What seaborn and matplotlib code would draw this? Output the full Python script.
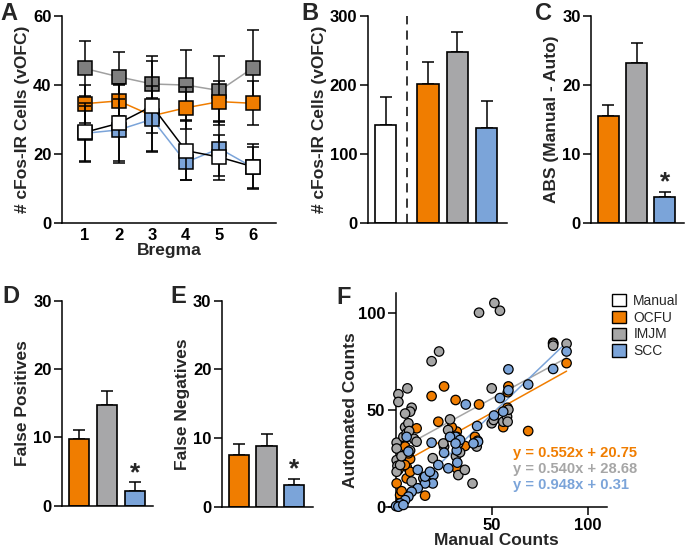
import numpy as np
import pandas as pd
import matplotlib
matplotlib.use("Agg")
import matplotlib.pyplot as plt
from matplotlib.patches import Patch
import seaborn as sns

# ---------------- data ----------------
groups = ["Manual", "OCFU", "IMJM", "SCC"]
colors = {"Manual": "#ffffff", "OCFU": "#f07d00", "IMJM": "#a7a7a9", "SCC": "#7ba4d9"}

# Panel A
bregma = [1, 2, 3, 4, 5, 6]
a_manual = [26.2, 28.8, 33.8, 20.9, 19.0, 16.2]
a_manual_sem = [8.5, 11.5, 13.0, 8.5, 6.5, 6.5]
a_ocfu = [34.5, 35.3, 31.0, 33.3, 35.1, 34.6]
a_ocfu_sem = [5.5, 4.5, 5.0, 6.0, 6.0, 6.4]
a_imjm = [44.7, 42.3, 40.2, 39.9, 38.3, 44.9]
a_imjm_sem = [8.0, 7.2, 8.1, 10.1, 10.0, 10.9]
a_scc = [25.9, 26.9, 30.0, 17.5, 21.5, 16.0]
a_scc_sem = [8.0, 9.0, 9.5, 5.0, 8.0, 6.0]

# Panel B
b_vals = [142, 201, 247, 137]
b_err = [40, 32, 29, 39]

# Panels C, D, E (OCFU, IMJM, SCC)
cde_groups = ["OCFU", "IMJM", "SCC"]
c_vals = [15.4, 23.2, 3.7]
c_err = [1.7, 2.8, 0.8]
d_vals = [9.8, 14.7, 2.2]
d_err = [1.3, 2.1, 1.2]
e_vals = [7.5, 8.8, 3.2]
e_err = [1.6, 1.8, 0.9]

# Panel F scatter
imjm_x = [1.4, 1.4, 6.1, 8.3, 7.5, 18.7, 22.6, 43.4, 51.4, 54.3, 50, 82, 89, 82, 0.5, 4.9, 4, 6.6,
          9.5, 7.5, 0.5, 0.9, 0.5, 2.3, 8.3, 14.4, 19.3, 25.2, 28.3, 27.3, 31.4, 32.6, 36, 40, 42.2,
          42.7, 50, 51, 56, 58, 58.3, 58.7, 31.8, 32.6, 33.5, 24.8, 5.7, 4.9, 10.9, 0.5, 3.0, 7.0]
imjm_y = [58, 54, 61, 51, 49, 75, 80, 100, 105, 101, 61, 84, 84, 83, 33, 41, 36, 43,
          35, 29, 24, 21, 18, 21.5, 13, 14.6, 25, 31, 45, 39.5, 26, 16.3, 19, 12, 31,
          34, 43, 44.7, 43.8, 46.4, 43.8, 50, 36, 32.6, 28, 32.6, 37.8, 48, 33.5, 30, 26, 39]
ocfu_x = [18.7, 25.2, 31.2, 43.4, 58.7, 58.4, 58.2, 56, 69, 89, 22.2, 10.9, 5.7, 4.9, 5.7, 0.5,
          2.3, 15.3, 7.5, 5.7, 36.1, 41.3, 31.8, 31.8, 7.5, 2.3, 29.2, 1.4, 3.1, 6.6, 4.8, 82]
ocfu_y = [57, 62, 55, 52.7, 62, 59, 51, 41, 39, 74, 43.8, 40.4, 36, 31, 20.6, 12,
          6, 5.7, 24.6, 14.6, 31.3, 36, 38.7, 19.8, 18, 1.7, 41, 19, 8, 27.5, 21.5, 84.5]
scc_x = [36.5, 58.7, 69, 82, 89, 58.7, 54.3, 56, 51.2, 42.4, 42.9, 40.5, 31.2, 33.5, 31.8, 32.1,
         27.4, 25.2, 22.2, 18.7, 19.6, 19.3, 15.3, 11.5, 11.5, 8.3, 6.6, 4.9, 2.3, 0.2, 1.4, 4,
         6.6, 5.7, 28.3, 31.2, 15.3, 17.8]
scc_y = [52.7, 70.8, 63, 71, 80, 60, 56, 49, 47, 41.6, 33.5, 32.6, 36, 34.4, 29, 22.7,
         19.8, 27.8, 21.5, 33, 16.3, 12, 12, 9.5, 19, 7.7, 5.2, 3.4, 1.7, 0.3, 0, 0.9,
         28.4, 36, 36, 32.6, 15.5, 18]
fit_slope = {"OCFU": 0.552, "IMJM": 0.540, "SCC": 0.948}
fit_icpt = {"OCFU": 20.75, "IMJM": 28.68, "SCC": 0.31}

# ---------------- style ----------------
sns.set_style("ticks")
plt.rcParams["font.family"] = ["Liberation Sans", "DejaVu Sans"]
plt.rcParams.update({
    "font.weight": "bold", "axes.labelweight": "bold", "font.size": 12,
    "axes.linewidth": 1.1, "xtick.major.width": 1.1, "ytick.major.width": 1.1,
    "xtick.major.size": 5.5, "ytick.major.size": 5.5,
    "xtick.labelsize": 12, "ytick.labelsize": 12, "axes.labelsize": 12.5,
    "xtick.color": "black", "ytick.color": "black", "axes.edgecolor": "black",
    "xtick.major.pad": 2.5, "ytick.major.pad": 2,
})

W, H = 685, 560
fig = plt.figure(figsize=(W / 100, H / 100), dpi=100)


def axes_px(left, top, right, bottom):
    return fig.add_axes([left / W, 1 - bottom / H, (right - left) / W, (bottom - top) / H])


def clean(ax):
    sns.despine(ax=ax)
    for s in ["left", "bottom"]:
        ax.spines[s].set_linewidth(1.1)


# ---------------- Panel A ----------------
axA = axes_px(62, 15.7, 276, 222.7)
seriesA = [
    ("IMJM", a_imjm, a_imjm_sem, "#a0a0a0", "#7f7f7f"),
    ("OCFU", a_ocfu, a_ocfu_sem, "#f07d00", "#f07d00"),
    ("SCC", a_scc, a_scc_sem, "#7ba4d9", "#7ba4d9"),
    ("Manual", a_manual, a_manual_sem, "black", "white"),
]
z = 2
for name, vals, sem, lc, fc in seriesA:
    axA.errorbar(bregma, vals, yerr=sem, fmt="none", ecolor="black", elinewidth=1.1,
                 capsize=4, capthick=1.1, zorder=z)
    sns.lineplot(x=bregma, y=vals, color=lc, lw=1.1, marker="s", markersize=9.5,
                 markerfacecolor=fc, markeredgecolor="black", markeredgewidth=1.1,
                 ax=axA, zorder=z + 1)
    z += 2
axA.set_xlim(0.32, 6.68)
axA.set_ylim(0, 60)
axA.set_yticks([0, 20, 40, 60])
axA.set_xticks(bregma)
axA.tick_params(axis="x", length=0, pad=4)
axA.set_xlabel("Bregma", labelpad=0)
axA.set_ylabel("# cFos-IR Cells (vOFC)", labelpad=2)
clean(axA)


# ---------------- bar helper ----------------
def bar_panel(ax, names, vals, errs, pos, ylim, yticks, xlim, ylabel, star=False):
    df = pd.DataFrame({"pos": pos, "val": vals, "grp": names})
    sns.barplot(data=df, x="pos", y="val", hue="grp", palette=colors, native_scale=True,
                dodge=False, legend=False, edgecolor="black", linewidth=1.2, width=0.72,
                saturation=1, errorbar=None, ax=ax, zorder=2)
    ax.errorbar(pos, vals, yerr=[np.zeros(len(vals)), errs], fmt="none", ecolor="black",
                elinewidth=1.1, capsize=4.2, capthick=1.1, zorder=1)
    ax.set_xlim(*xlim)
    ax.set_ylim(*ylim)
    ax.set_yticks(yticks)
    ax.set_xticks([])
    ax.set_xlabel("")
    ax.set_ylabel(ylabel, labelpad=2)
    if star:
        ax.annotate("*", xy=(pos[-1], vals[-1] + errs[-1]), xytext=(0, -2),
                    textcoords="offset points", ha="center", va="bottom",
                    fontsize=19, fontweight="bold")
    clean(ax)


# ---------------- Panel B ----------------
axB = axes_px(367.7, 15.7, 506.7, 222.7)
bar_panel(axB, groups, b_vals, b_err, [-0.45, 1, 2, 3], (0, 300), [0, 100, 200, 300],
          (-1.06, 3.69), "# cFos-IR Cells (vOFC)")
axB.axvline(0.27, color="black", lw=1.1, ls=(0, (6, 4)), zorder=0)

# ---------------- Panel C ----------------
axC = axes_px(591, 15.7, 684, 222.7)
bar_panel(axC, cde_groups, c_vals, c_err, [0, 1, 2], (0, 30), [0, 10, 20, 30],
          (-0.62, 2.69), "ABS (Manual - Auto)", star=True)

# ---------------- Panel D ----------------
axD = axes_px(62, 300.7, 153.3, 505.7)
bar_panel(axD, cde_groups, d_vals, d_err, [0, 1, 2], (0, 30), [0, 10, 20, 30],
          (-0.61, 2.67), "False Positives", star=True)

# ---------------- Panel E ----------------
axE = axes_px(221.7, 300.7, 313, 506.7)
bar_panel(axE, cde_groups, e_vals, e_err, [0, 1, 2], (0, 30), [0, 10, 20, 30],
          (-0.61, 2.67), "False Negatives", star=True)

# ---------------- Panel F ----------------
axF = axes_px(386.1, 293.3, 606.9, 506.7)
dfF = pd.concat([
    pd.DataFrame({"manual": ocfu_x, "auto": ocfu_y, "grp": "OCFU"}),
    pd.DataFrame({"manual": imjm_x, "auto": imjm_y, "grp": "IMJM"}),
    pd.DataFrame({"manual": scc_x, "auto": scc_y, "grp": "SCC"}),
], ignore_index=True)
scatter_pal = {"OCFU": "#f07d00", "IMJM": "#a6a6a6", "SCC": "#7ba4d9"}
for g in ["IMJM", "OCFU", "SCC"]:
    sub = dfF[dfF.grp == g]
    xs = np.array([sub.manual.min(), sub.manual.max()])
    sns.lineplot(x=xs, y=fit_slope[g] * xs + fit_icpt[g], color=scatter_pal[g], lw=1.1,
                 ax=axF, zorder=1)
sns.scatterplot(data=dfF, x="manual", y="auto", hue="grp", palette=scatter_pal, s=46,
                edgecolor="black", linewidth=0.9, legend=False, ax=axF, zorder=3,
                clip_on=False)
axF.set_xlim(-5, 110)
axF.set_ylim(0, 110)
axF.spines["left"].set_position(("data", 0))
axF.set_xticks([50, 100])
axF.set_yticks([0, 50, 100])
axF.set_xlabel("Manual Counts", labelpad=0)
axF.set_ylabel("Automated Counts")
axF.yaxis.set_label_coords((358 - 386.1) / 220.8, (506.7 - 410) / 213.4)
clean(axF)
eq_y = [27.8, 19.4, 11.0]
for g, yy in zip(["OCFU", "IMJM", "SCC"], eq_y):
    axF.text(61, yy, f"y = {fit_slope[g]:.3f}x + {fit_icpt[g]:.2f}", color=scatter_pal[g],
             fontsize=10.6, fontweight="bold", va="center", ha="left")

handles = [Patch(facecolor=colors[g] if g != "IMJM" else "#a6a6a6", edgecolor="black",
                 linewidth=1.0, label=g) for g in groups]
fig.legend(handles=handles, loc="upper left", bbox_to_anchor=(612 / W, 1 - 294 / H),
           frameon=False, handlelength=1.0, handleheight=1.0, handletextpad=0.55,
           labelspacing=0.2, borderpad=0, borderaxespad=0,
           prop={"weight": "normal", "size": 9.9})

# ---------------- panel letters ----------------
for lab, x, y in [("A", 0, 2), ("B", 301, 2), ("C", 535, 2),
                  ("D", 2, 285), ("E", 170, 285), ("F", 336, 286)]:
    fig.text(x / W, 1 - y / H, lab, fontsize=17, fontweight="bold", va="top", ha="left")

fig.savefig("out.png", dpi=100)
